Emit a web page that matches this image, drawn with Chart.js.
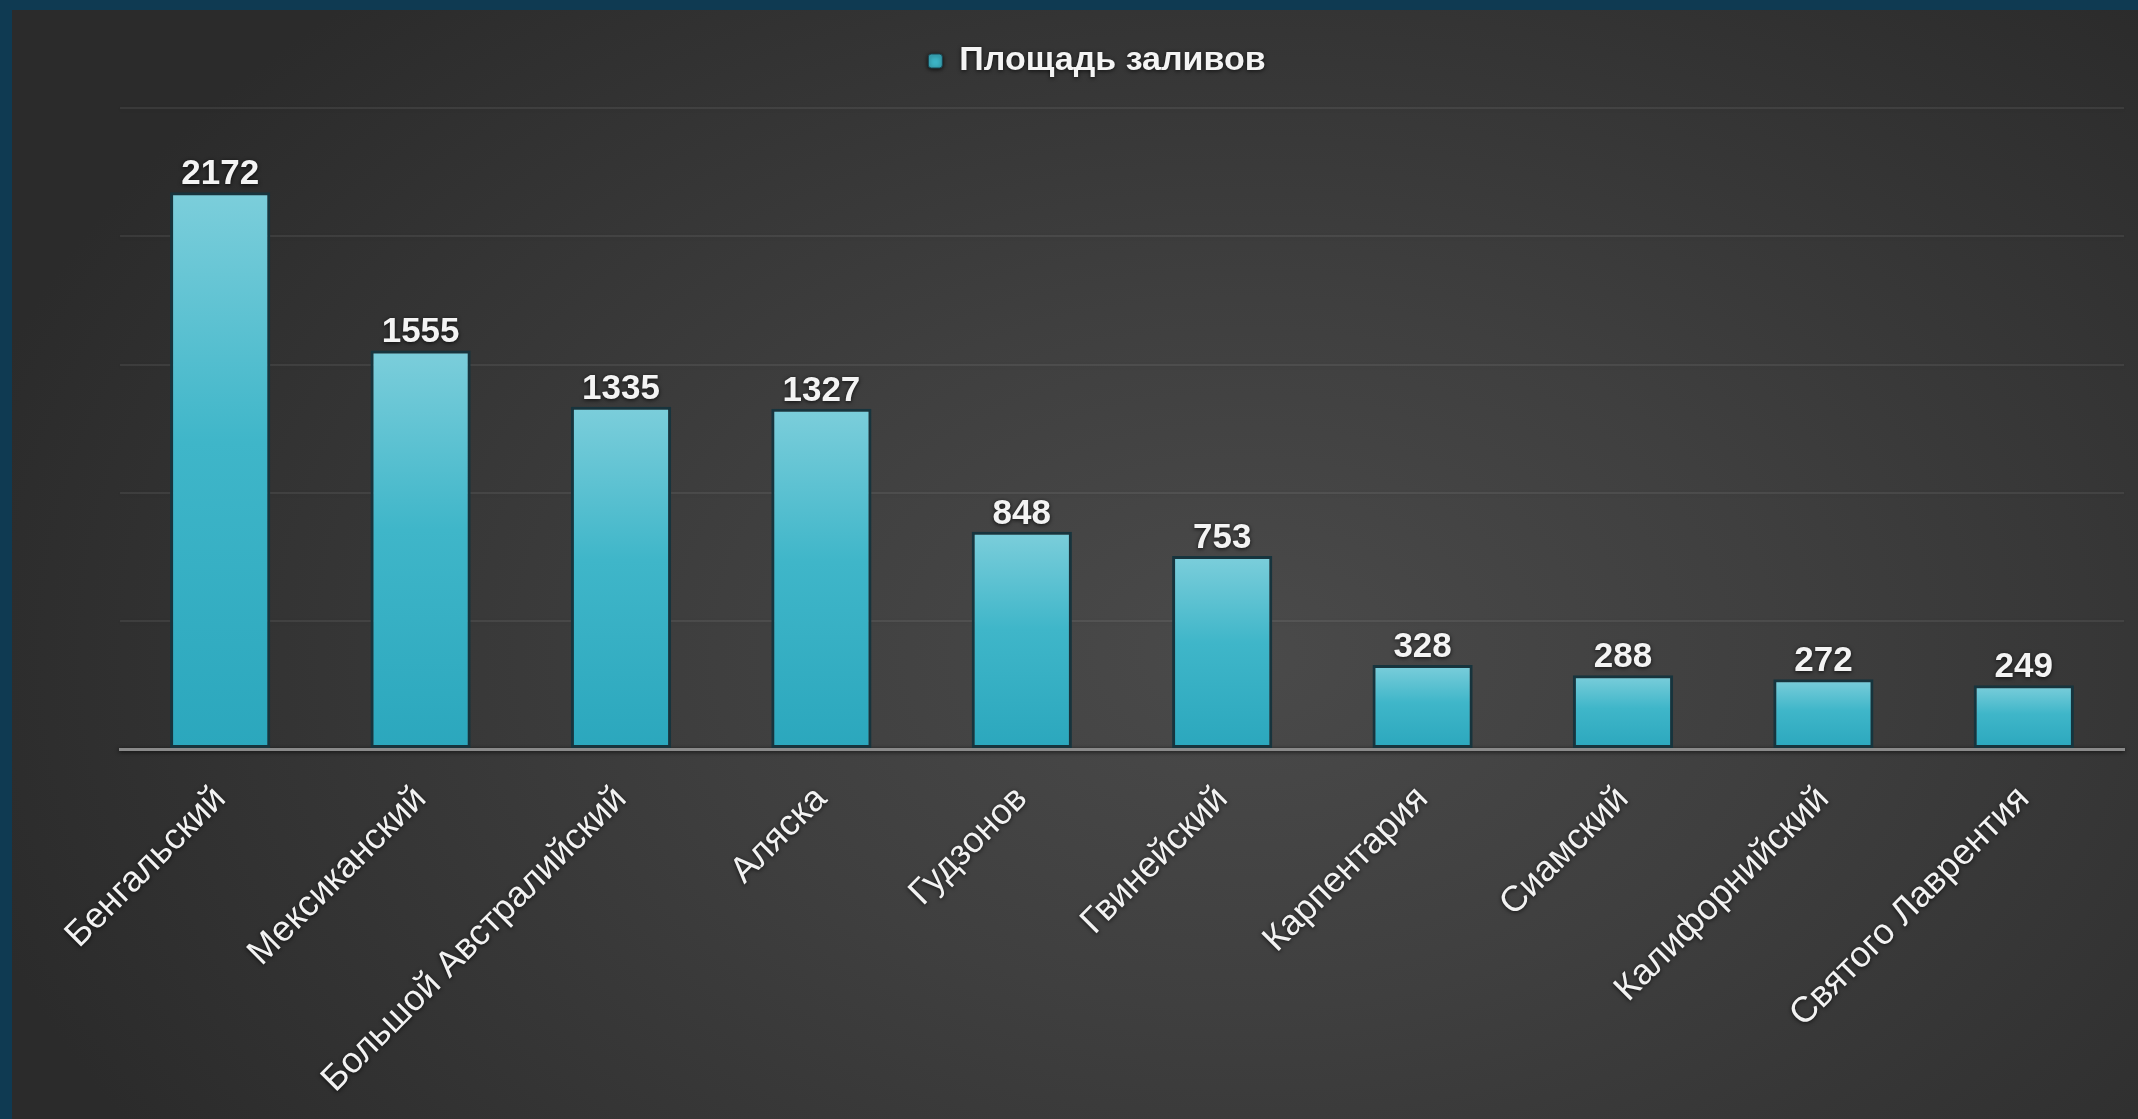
<!DOCTYPE html>
<html>
<head>
<meta charset="utf-8">
<script src="https://cdn.jsdelivr.net/npm/chart.js@4.4.1/dist/chart.umd.min.js"></script>
<style>
  html, body { margin: 0; padding: 0; }
  body { width: 2138px; height: 1119px; background: #0f3a52; position: relative; overflow: hidden; }
  #panel { position: absolute; left: 12px; top: 10px; right: 0; bottom: 0;
    background: radial-gradient(ellipse 62% 80% at 58% 58%, #4a4a4a 0%, #3f3f3f 40%, #2b2b2b 100%); }
  #c { position: absolute; left: 0; top: 0; }
</style>
</head>
<body>
<div id="panel"></div>
<canvas id="c" width="2138" height="1119"></canvas>
<script>
const categories = ['Бенгальский', 'Мексиканский', 'Большой Австралийский', 'Аляска', 'Гудзонов',
  'Гвинейский', 'Карпентария', 'Сиамский', 'Калифорнийский', 'Святого Лаврентия'];
const seriesName = 'Площадь заливов';
const areaValues = [2172, 1555, 1335, 1327, 848, 753, 328, 288, 272, 249];
const yTicks = [0, 500, 1000, 1500, 2000, 2500];

const FONT = '"Liberation Sans", Arial, sans-serif';

function barGradient(c) {
  const chart = c.chart;
  const y = chart.scales && chart.scales.y;
  if (!chart.chartArea || !y || c.raw === undefined) return '#3bb4c7';
  const top = y.getPixelForValue(c.raw);
  const bottom = y.getPixelForValue(0);
  const g = chart.ctx.createLinearGradient(0, top, 0, bottom);
  g.addColorStop(0, '#7ccedb');
  g.addColorStop(0.45, '#3fb6c9');
  g.addColorStop(1, '#2ba7bd');
  return g;
}

const shadowPlugin = {
  id: 'shadowPlugin',
  beforeDraw(chart) {
    const ctx = chart.ctx;
    ctx.save();
    ctx.shadowColor = 'rgba(0,0,0,0.75)';
    ctx.shadowBlur = 4;
    ctx.shadowOffsetY = 1;
  },
  beforeDatasetsDraw(chart) {
    chart.ctx.restore();
  }
};

const valueLabels = {
  id: 'valueLabels',
  afterDatasetsDraw(chart) {
    const ctx = chart.ctx;
    const meta = chart.getDatasetMeta(0);
    ctx.save();
    ctx.font = 'bold 35px ' + FONT;
    ctx.fillStyle = '#f4f4f4';
    ctx.textAlign = 'center';
    ctx.textBaseline = 'alphabetic';
    ctx.shadowColor = 'rgba(0,0,0,0.8)';
    ctx.shadowBlur = 4;
    ctx.shadowOffsetY = 1;
    meta.data.forEach((bar, i) => {
      ctx.fillText(String(chart.data.datasets[0].data[i]), bar.x, bar.y - 8);
    });
    ctx.restore();
  }
};

new Chart(document.getElementById('c'), {
  type: 'bar',
  data: {
    labels: categories,
    datasets: [{
      label: seriesName,
      data: areaValues,
      backgroundColor: barGradient,
      borderColor: '#17343d',
      borderWidth: 3,
      borderSkipped: false,
      barPercentage: 0.5,
      categoryPercentage: 1.0
    }]
  },
  options: {
    responsive: false,
    devicePixelRatio: 1,
    animation: false,
    layout: { padding: { left: 70, right: 14, top: 14, bottom: 0 } },
    plugins: {
      tooltip: { enabled: false },
      title: {
        display: true,
        text: '',
        weight: 500,
        font: { size: 1 },
        padding: { top: 0, bottom: 19 }
      },
      legend: {
        position: 'top',
        weight: 1000,
        labels: {
          padding: 30,
          boxWidth: 14,
          boxHeight: 14,
          useBorderRadius: true,
          font: { family: FONT, size: 34, weight: 'bold' },
          color: '#f4f4f4',
          generateLabels: (chart) => [{
            text: seriesName,
            fillStyle: '#3cb3c5',
            strokeStyle: '#1b4450',
            lineWidth: 1,
            borderRadius: 3,
            fontColor: '#f4f4f4',
            datasetIndex: 0
          }]
        }
      }
    },
    scales: {
      x: {
        grid: { display: false, drawTicks: false },
        border: { display: true, color: '#8a8a8a', width: 3 },
        ticks: {
          color: '#f2f2f2',
          font: { family: FONT, size: 36 },
          minRotation: 45,
          maxRotation: 45,
          padding: 29,
          autoSkip: false
        },
        afterFit(scale) { scale.height = 1119 - 749; }
      },
      y: {
        min: yTicks[0],
        max: yTicks[yTicks.length - 1],
        afterBuildTicks(scale) { scale.ticks = yTicks.map(v => ({ value: v })); },
        ticks: { display: false },
        border: { display: false },
        grid: { color: 'rgba(255,255,255,0.07)', lineWidth: 2, drawTicks: false },
        afterFit(scale) { scale.width = 50; }
      }
    }
  },
  plugins: [shadowPlugin, valueLabels]
});
</script>
</body>
</html>
